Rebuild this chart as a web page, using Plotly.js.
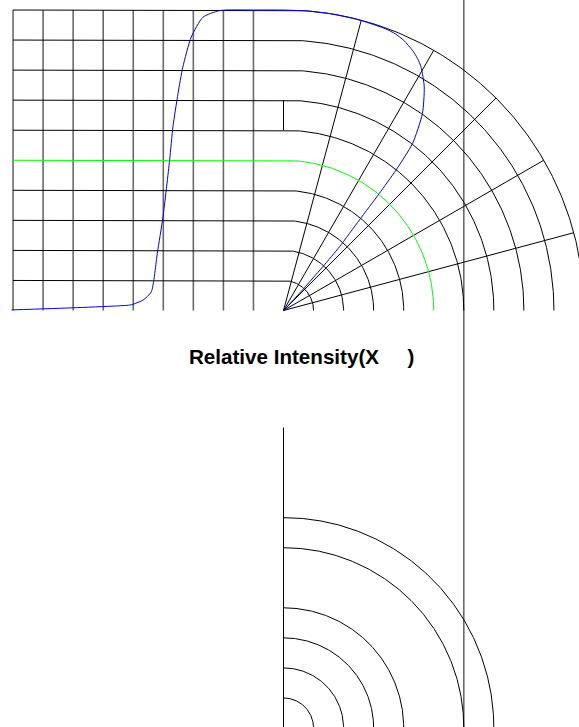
<!DOCTYPE html>
<html>
<head>
<meta charset="utf-8">
<script src="https://cdn.plot.ly/plotly-3.0.1.min.js"></script>
<style>
  html, body { margin: 0; padding: 0; background: #ffffff; overflow: hidden; }
  #chart { width: 579px; height: 727px; }
</style>
</head>
<body>
<div id="chart"></div>
<script>
// ---- data ----
const ringRadii = [1, 2, 3, 4, 5, 6, 7, 8, 9, 10];
const highlightRing = 5;
const spokeAngles = [15, 30, 45, 60, 75];
const gridColumns = [-9, -8, -7, -6, -5, -4, -3, -2, -1];
const gridRows = [1, 2, 3, 4, 5, 6, 7, 8, 9, 10];
const lowerRings = [1, 2, 3, 4, 6, 7];
const markerLineX = 6;
const stubFrom = 6;
const stubTo = 7;

// blue curve, left (cartesian) part
const curveLeftX = [-9.05, -7.0, -5.6, -5.12, -5.0, -4.67, -4.4, -4.2, -4.01, -3.79, -3.68, -3.51, -3.35, -3.07, -2.68, -2.13, -1.0, 0.0];
const curveLeftY = [0.02, 0.09, 0.15, 0.18, 0.21, 0.35, 0.62, 1.9, 3.12, 5.0, 6.11, 7.22, 8.1, 9.1, 9.76, 9.98, 10.0, 10.0];
// blue curve, polar part (angle in degrees from the vertical, relative intensity)
const curveAngle = [0, 5, 10, 15, 20, 22, 24, 26.4, 28, 29.5, 32.2, 35.2, 37.7, 38.7, 39.3, 40.0, 41.3, 41.9, 42.9, 43.2];
const curveIntensity = [10.0, 10.0, 10.0, 9.99, 9.97, 9.93, 9.84, 9.66, 9.5, 9.3, 8.79, 8.02, 7.02, 5.98, 5.03, 3.93, 2.82, 1.96, 0.78, 0.0];

const titleText = "Relative Intensity(X\u00a0\u00a0\u00a0\u00a0\u00a0)";

// ---- geometry helpers ----
const S = 30.05;            // px per unit
const W = 579, H = 727;
const ox = 283.5, oy = 310.5;
const lowerCenterY = -(728 - oy) / S;

function rad(d) { return d * Math.PI / 180; }
function arcPts(r, cy, xs, ys) {
  for (let a = 0; a <= 90.001; a += 0.5) {
    xs.push(r * Math.sin(rad(a)));
    ys.push(cy + r * Math.cos(rad(a)));
  }
}

const bx = [], by = [];
function brk() { bx.push(null); by.push(null); }

// upper rings: horizontal line + quarter arc
ringRadii.forEach(function (r) {
  if (r === highlightRing) return;
  bx.push(gridColumns[0]); by.push(r);
  arcPts(r, 0, bx, by);
  brk();
});
// spokes
const rMax = ringRadii[ringRadii.length - 1];
spokeAngles.forEach(function (a) {
  bx.push(0, rMax * Math.sin(rad(a))); by.push(0, rMax * Math.cos(rad(a))); brk();
});
// short stub
bx.push(0, 0); by.push(stubFrom, stubTo); brk();
// lower copy
lowerRings.forEach(function (r) { arcPts(r, lowerCenterY, bx, by); brk(); });
bx.push(0, 0); by.push(lowerCenterY, lowerCenterY + rMax); brk();
bx.push(0, 0); by.push(lowerCenterY + stubFrom, lowerCenterY + stubTo); brk();

// vertical grid columns and the tall marker line (rendered softer, as in the reference)
const vx = [], vy = [];
gridColumns.forEach(function (c) {
  vx.push(c, c, null); vy.push(0, gridRows[gridRows.length - 1], null);
});
vx.push(markerLineX, markerLineX, null); vy.push(12, -15, null);

// green ring
const gx = [gridColumns[0]], gy = [highlightRing];
arcPts(highlightRing, 0, gx, gy);

// blue curve
const cx = curveLeftX.slice(), cy = curveLeftY.slice();
curveAngle.forEach(function (a, i) {
  const r = curveIntensity[i];
  cx.push(r * Math.sin(rad(a)));
  cy.push(r * Math.cos(rad(a)));
});

const traces = [
  { type: 'scatter', mode: 'lines', x: vx, y: vy, connectgaps: false,
    line: { color: '#6a6a6a', width: 1.6 }, hoverinfo: 'skip' },
  { type: 'scatter', mode: 'lines', x: bx, y: by, connectgaps: false,
    line: { color: '#000000', width: 1 }, hoverinfo: 'skip' },
  { type: 'scatter', mode: 'lines', x: gx, y: gy,
    line: { color: '#00ff00', width: 1 }, hoverinfo: 'skip' },
  { type: 'scatter', mode: 'lines', x: cx, y: cy,
    line: { color: '#0000ff', width: 1, shape: 'spline', smoothing: 0.6 }, hoverinfo: 'skip' }
];

const layout = {
  width: W, height: H,
  margin: { l: 0, r: 0, t: 0, b: 0, pad: 0 },
  paper_bgcolor: '#ffffff', plot_bgcolor: '#ffffff',
  showlegend: false,
  hovermode: false,
  xaxis: { range: [-ox / S, (W - ox) / S], visible: false, fixedrange: true },
  yaxis: { range: [-(H - oy) / S, oy / S], visible: false, fixedrange: true },
  annotations: [{
    text: '<b>' + titleText + '</b>',
    xref: 'paper', yref: 'paper',
    x: 301.5 / W, y: 1 - 356 / H,
    xanchor: 'center', yanchor: 'middle',
    showarrow: false,
    font: { family: 'Liberation Sans, Arial, sans-serif', size: 20.6, color: '#000000' }
  }]
};

Plotly.newPlot('chart', traces, layout, { displayModeBar: false, staticPlot: true });
</script>
</body>
</html>
